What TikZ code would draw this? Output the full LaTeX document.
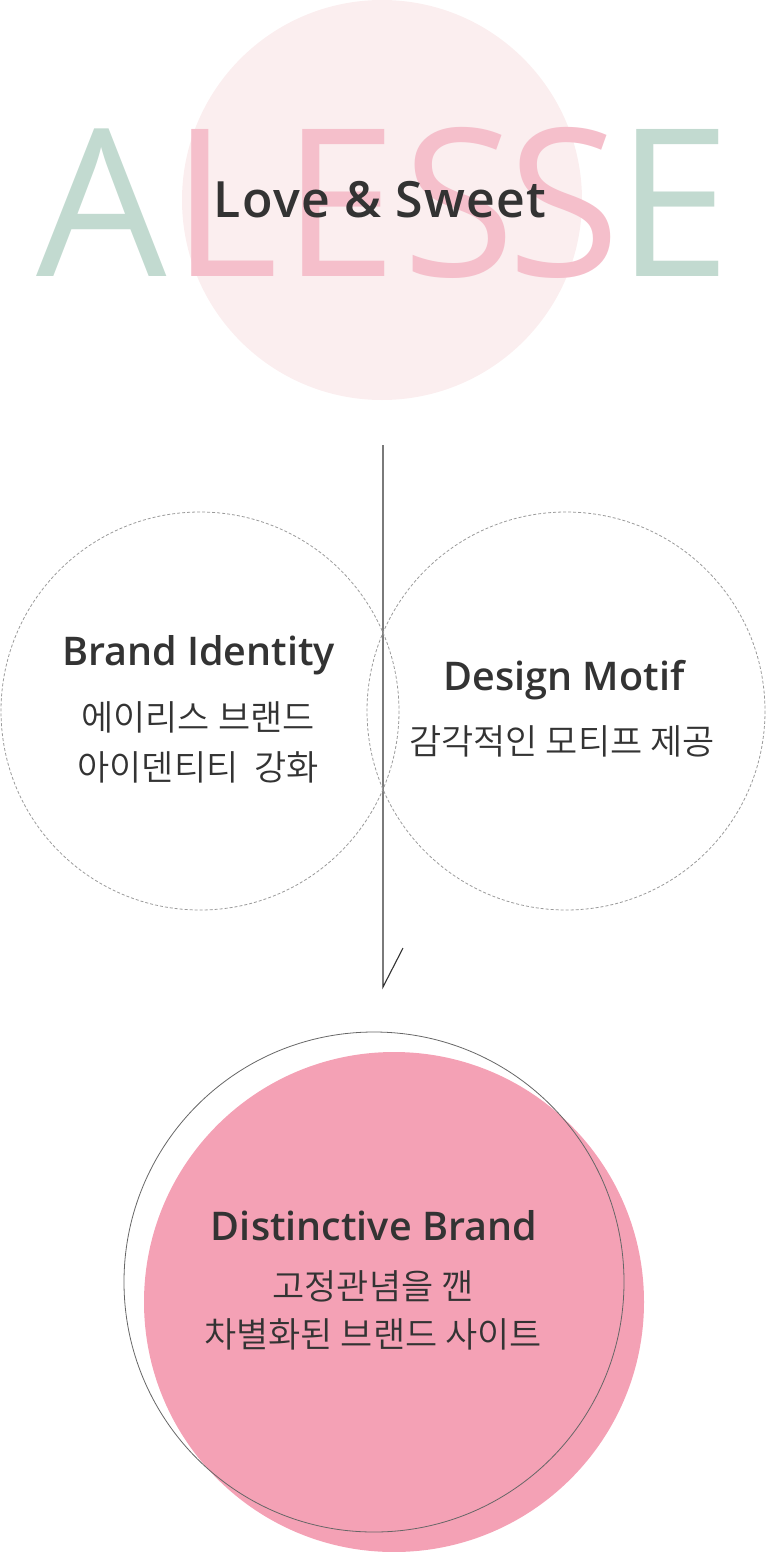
\documentclass[tikz,border=0pt]{standalone}
\usepackage{fontspec}
\setmainfont{Open Sans}
\IfFontExistsTF{Open Sans SemiBold}{\newfontfamily\osb{Open Sans SemiBold}}{%
  \IfFontExistsTF{Open Sans Semibold}{\newfontfamily\osb{Open Sans Semibold}}{\newcommand\osb{\bfseries}}}
\IfFontExistsTF{Noto Sans CJK KR DemiLight}{\newfontfamily\kr{Noto Sans CJK KR DemiLight}}{\newfontfamily\kr{Noto Sans CJK KR}}
\definecolor{softpink}{HTML}{FBEEEF}
\definecolor{letterpink}{HTML}{F5BFCB}
\definecolor{lettergreen}{HTML}{C2DAD0}
\definecolor{deeppink}{HTML}{F4A1B5}
\definecolor{ink}{HTML}{333333}
\definecolor{dashgray}{HTML}{9A9A9A}
\tikzset{
  big/.style={font=\fontsize{206}{206}\selectfont, inner sep=0pt, anchor=base},
  title/.style={font=\osb\fontsize{39.5}{39.5}\selectfont, text=ink, inner sep=0pt, anchor=base},
  krtext/.style={font=\kr\fontsize{35}{35}\selectfont, text=ink, inner sep=0pt, anchor=base},
  dashcircle/.style={draw=dashgray, line width=0.8pt, dash pattern=on 3pt off 2pt},
}
\begin{document}
\begin{tikzpicture}[x=1pt,y=-1pt]
\useasboundingbox (0,0) rectangle (766,1552);
% top
\fill[softpink] (382,200) circle[radius=200];
\node[big, text=lettergreen] (lA) at (102,276) {A};
\node[big, text=letterpink] (lL) at (225,276) {L};
\node[big, text=letterpink] (lE1) at (340,276) {E};
\node[big, text=letterpink] (lS1) at (459,276) {S};
\node[big, text=letterpink] (lS2) at (564,276) {S};
\node[big, text=lettergreen] (lE2) at (674,276) {E};
\node[font=\osb\fontsize{50}{50}\selectfont\addfontfeature{LetterSpace=2.5}, text=ink, inner sep=0pt, anchor=base] (love) at (380,217) {Love \& Sweet};
% middle
\coordinate (vtop) at (383,445);
\coordinate (vbot) at (383,987);
\coordinate (vtick) at (403,948);
\draw[ink, line width=1.1pt] (vtop) -- (vbot) -- (vtick);
\draw[dashcircle] (200,711) circle[radius=199];
\draw[dashcircle] (566,711) circle[radius=199];
\node[title] (bi) at (198.5,665) {Brand Identity};
\node[krtext] (bi1) at (198,730) {에이리스 브랜드};
\node[krtext] (bi2) at (198,780) {아이덴티티\ \ 강화};
\node[title] (dm) at (564,690) {Design Motif};
\node[krtext] (dm1) at (562,754) {감각적인 모티프 제공};
% bottom
\fill[deeppink] (394,1302) circle[radius=250];
\draw[ink!75, line width=0.8pt] (374,1282) circle[radius=250];
\node[title] (db) at (374,1240) {Distinctive Brand};
\node[krtext] (db1) at (373,1299) {고정관념을 깬};
\node[krtext] (db2) at (373,1347) {차별화된 브랜드 사이트};
\end{tikzpicture}
\end{document}
